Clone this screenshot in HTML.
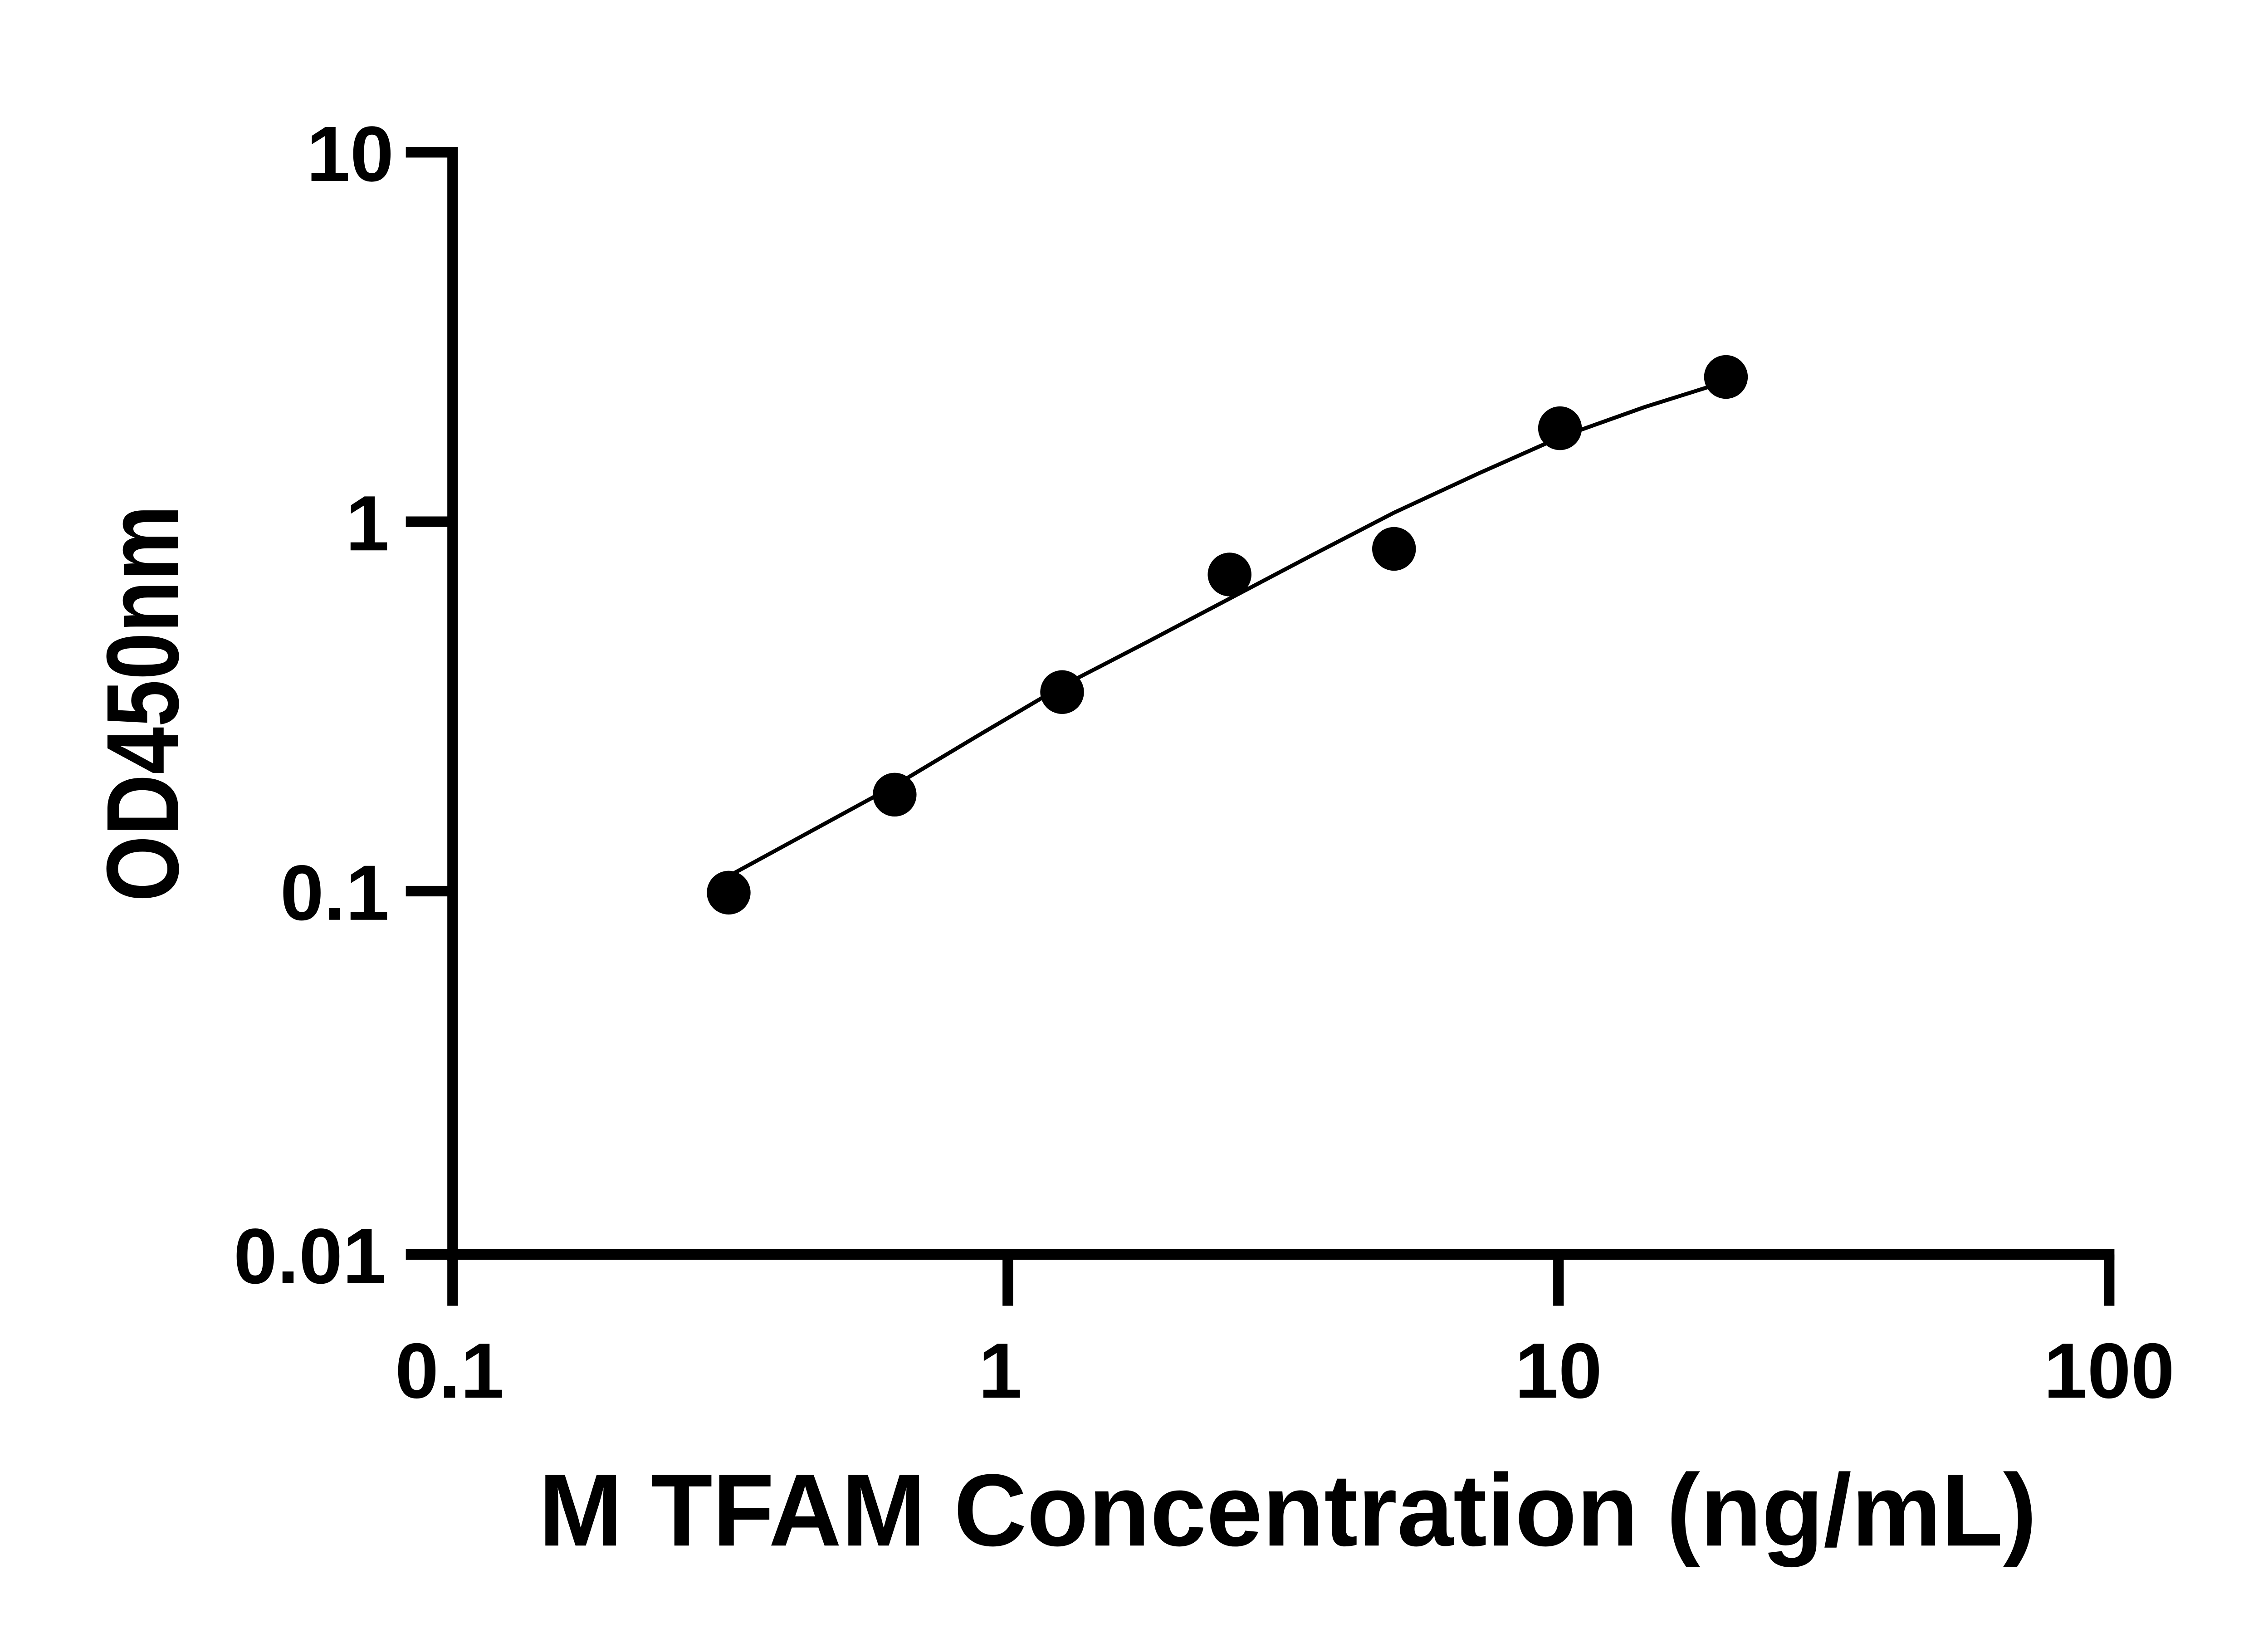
<!DOCTYPE html>
<html><head><meta charset="utf-8"><style>
html,body{margin:0;padding:0;background:#fff;}
svg{display:block;}
</style></head><body>
<svg width="5142" height="3600" viewBox="0 0 1546 1083" preserveAspectRatio="none" xmlns="http://www.w3.org/2000/svg">
<rect width="1546" height="1083" fill="#fff"/>
<g stroke="#000" stroke-width="7" fill="none" stroke-linecap="butt">
<path d="M300 101 V836"/>
<path d="M296.5 832 H1401.5"/>
<path d="M269 101 H303.5"/>
<path d="M269 346 H300"/>
<path d="M269 591 H300"/>
<path d="M269 832 H300"/>
<path d="M300 832 V866"/>
<path d="M668 832 V866"/>
<path d="M1033 832 V866"/>
<path d="M1398 832 V866"/>
</g>
<path d="M483 581 L538 551 L593 521 L648 488 L704 455 L760 426 L815 397 L870 368 L924 340 L980 314 L1034 290 L1090 270 L1144 253" fill="none" stroke="#000" stroke-width="2.6"/>
<g fill="#000">
<circle cx="483" cy="592" r="14.5"/>
<circle cx="593" cy="527" r="14.5"/>
<circle cx="704" cy="459" r="14.5"/>
<circle cx="815" cy="381" r="14.5"/>
<circle cx="924" cy="364" r="14.5"/>
<circle cx="1034" cy="284" r="14.5"/>
<circle cx="1144" cy="250" r="14.5"/>
</g>
<g font-family="Liberation Sans, Arial, sans-serif" font-weight="bold" font-size="52" fill="#000">
<text x="261" y="120" text-anchor="end">10</text>
<text x="258" y="365" text-anchor="end">1</text>
<text x="258" y="610" text-anchor="end">0.1</text>
<text x="256" y="851" text-anchor="end">0.01</text>
<text x="298" y="927" text-anchor="middle">0.1</text>
<text x="663" y="927" text-anchor="middle">1</text>
<text x="1033" y="927" text-anchor="middle">10</text>
<text x="1398" y="927" text-anchor="middle">100</text>
</g>
<g font-family="Liberation Sans, DejaVu Sans, sans-serif" font-weight="bold" font-size="68" fill="#000">
<text x="357" y="1025" textLength="993" lengthAdjust="spacingAndGlyphs">M TFAM Concentration (ng/mL)</text>
<text transform="translate(118,598) rotate(-90)" x="0" y="0" textLength="263" lengthAdjust="spacingAndGlyphs">OD450nm</text>
</g>
</svg>
</body></html>
